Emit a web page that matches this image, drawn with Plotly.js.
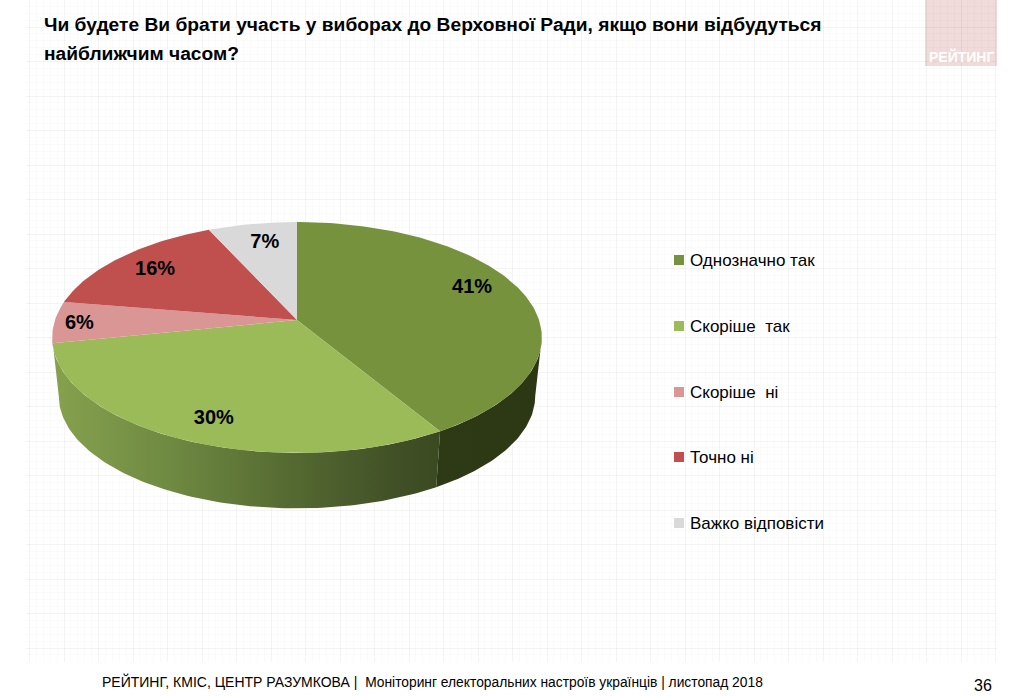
<!DOCTYPE html>
<html><head><meta charset="utf-8">
<script src="https://cdn.plot.ly/plotly-3.0.1.min.js"></script>
<style>html,body{margin:0;padding:0;background:#fff}#c{width:1024px;height:696px}</style>
</head><body><div id="c"></div>
<script>
const categories = ["Однозначно так","Скоріше  так","Скоріше  ні","Точно ні","Важко відповісти"];
const values = [41.4,30.4,5.8,15.6,6.8];
const colors = ["#76923c","#9bbb59","#d99694","#c0504d","#d9d9d9"];
const labelRadius = [0.82,0.82,0.897,0.8,0.8];
const labelAngleShift = [-7,-2,0,0.6,1.5];
const legendY = [260,326,392,457,523];
const titleLine1 = "Чи будете Ви брати участь у виборах до Верховної Ради, якщо вони відбудуться";
const titleLine2 = "найближчим часом?";

// perspective of the tilted disc (page pixels)
const cx=297, cy=320, K=242, k=112.8, p=0.1515, depth=59, shrink=0.973;
function proj(deg,r,bottom){
  const a=deg*Math.PI/180, u=Math.sin(a)*r, v=Math.cos(a)*r, d=1+p*v, s=bottom?shrink:1;
  return [cx+s*K*u/d, cy+(bottom?depth:0)-s*k*v/d];
}
function arc(a0,a1,bottom){
  const n=Math.max(2,Math.ceil(Math.abs(a1-a0))), xs=[], ys=[];
  for(let i=0;i<=n;i++){const q=proj(a0+(a1-a0)*i/n,1,bottom);xs.push(q[0]);ys.push(q[1]);}
  return [xs,ys];
}
const total=values.reduce((s,v)=>s+v,0);
const edges=[0]; values.forEach(v=>edges.push(edges[edges.length-1]+v/total*360));
const rightSil=98.7, leftSil=261.3;

function wall(a0,a1,grad){
  const t=arc(a0,a1,false), b=arc(a1,a0,true);
  const tr={type:'scatter',mode:'lines',xaxis:'x2',yaxis:'y2',hoverinfo:'skip',showlegend:false,
    x:t[0].concat(b[0],[t[0][0]]),y:t[1].concat(b[1],[t[1][0]]),fill:'toself',line:{width:0}};
  tr.fillgradient={type:'horizontal',colorscale:grad};
  tr.fillcolor=grad[0][1];
  return tr;
}
const traces=[];
// background grid subplot
traces.push({type:'scatter',mode:'none',x:[100],y:[100],xaxis:'x',yaxis:'y',hoverinfo:'skip',showlegend:false});
traces.push(wall(rightSil,edges[1],[[0,'#2e3915'],[1,'#2c3713']]));
traces.push(wall(edges[1],leftSil,[[0,'#86a24e'],[0.3,'#6f8a42'],[0.6,'#566b32'],[0.9,'#404f26'],[1,'#3c4a22']]));
values.forEach((v,i)=>{
  const t=arc(edges[i],edges[i+1],false);
  traces.push({type:'scatter',mode:'lines',xaxis:'x2',yaxis:'y2',name:categories[i],hoverinfo:'skip',showlegend:false,
    x:[cx].concat(t[0],[cx]),y:[cy].concat(t[1],[cy]),fill:'toself',fillcolor:colors[i],line:{width:0}});
});
const labelPts=values.map((v,i)=>proj((edges[i]+edges[i+1])/2+labelAngleShift[i],labelRadius[i],false));
traces.push({type:'scatter',mode:'text',xaxis:'x2',yaxis:'y2',hoverinfo:'skip',showlegend:false,
  x:labelPts.map(q=>q[0]),y:labelPts.map(q=>q[1]+2),text:values.map(v=>Math.round(v)+'%'),textposition:'middle center',
  textfont:{family:'"Liberation Sans",Arial,sans-serif',size:20,color:'#000',weight:700}});
// legend
traces.push({type:'scatter',mode:'markers',xaxis:'x2',yaxis:'y2',hoverinfo:'skip',showlegend:false,
  x:categories.map(()=>679),y:legendY,marker:{symbol:'square',size:10,color:colors,line:{width:0}}});
traces.push({type:'scatter',mode:'text',xaxis:'x2',yaxis:'y2',hoverinfo:'skip',showlegend:false,
  x:categories.map(()=>690),y:legendY.map(y=>y+1.5),text:categories,textposition:'middle right',
  textfont:{family:'"Liberation Sans",Arial,sans-serif',size:17,color:'#000'}});

const gridMajor='rgba(0,0,0,0.045)', gridMinor='rgba(0,0,0,0.016)';
const layout={
  width:1024,height:696,margin:{l:0,r:0,t:0,b:0},paper_bgcolor:'#fff',plot_bgcolor:'rgba(0,0,0,0)',
  hovermode:false,showlegend:false,
  title:{text:titleLine1,x:44/1024,xanchor:'left',xref:'paper',y:1-18/696,yanchor:'top',
    font:{family:'"Liberation Sans",Arial,sans-serif',size:19.2,color:'#000',weight:700}},
  xaxis:{domain:[26/1024,997/1024],range:[26,997],showgrid:true,gridcolor:gridMajor,gridwidth:1,tick0:857.5,dtick:34.5,
    minor:{showgrid:true,dtick:6.9,tick0:857.5,gridcolor:gridMinor,gridwidth:1},
    zeroline:false,showticklabels:false,ticks:'',showline:false,fixedrange:true},
  yaxis:{domain:[34/696,1],range:[662,0],showgrid:true,gridcolor:gridMajor,gridwidth:1,tick0:27,dtick:34.5,
    minor:{showgrid:true,dtick:6.9,tick0:27,gridcolor:gridMinor,gridwidth:1},
    zeroline:false,showticklabels:false,ticks:'',showline:false,fixedrange:true},
  xaxis2:{domain:[0,1],range:[0,1024],anchor:'y2',visible:false,fixedrange:true},
  yaxis2:{domain:[0,1],range:[696,0],anchor:'x2',visible:false,fixedrange:true},
  shapes:[{type:'rect',xref:'paper',yref:'paper',layer:'below',x0:925/1024,x1:997/1024,y0:1-66/696,y1:1,fillcolor:'#f0dada',line:{width:0}}],
  annotations:[
    {xref:'paper',yref:'paper',x:42/1024,y:1-54/696,xanchor:'left',yanchor:'middle',showarrow:false,text:'<b>'+titleLine2+'</b>',
      font:{family:'"Liberation Sans",Arial,sans-serif',size:19.2,color:'#000'}},
    {xref:'paper',yref:'paper',x:961/1024,y:1-57/696,xanchor:'center',yanchor:'middle',showarrow:false,text:'<b>РЕЙТИНГ</b>',
      font:{family:'"Liberation Sans",Arial,sans-serif',size:14,color:'#fff'}},
    {xref:'paper',yref:'paper',x:100/1024,y:1-681.5/696,xanchor:'left',yanchor:'middle',showarrow:false,
      text:'<span style="font-size:14px">РЕЙТИНГ, КМІС, ЦЕНТР РАЗУМКОВА |  </span>Моніторинг електоральних настроїв українців | листопад 2018',
      font:{family:'"Liberation Sans",Arial,sans-serif',size:13.8,color:'#000'}},
    {xref:'paper',yref:'paper',x:983/1024,y:1-685/696,xanchor:'center',yanchor:'middle',showarrow:false,text:'36',
      font:{family:'"Liberation Sans",Arial,sans-serif',size:16,color:'#000'}}
  ]
};
Plotly.newPlot('c',traces,layout,{displayModeBar:false,staticPlot:true});
</script></body></html>
